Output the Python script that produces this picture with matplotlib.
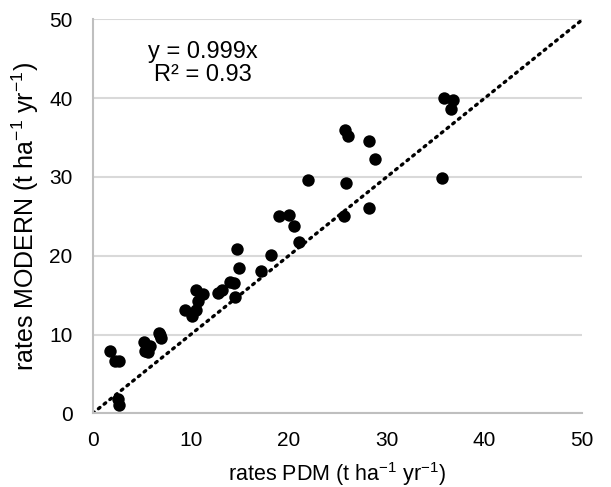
import matplotlib
matplotlib.use('Agg')
import matplotlib.pyplot as plt
import numpy as np

plt.rcParams['font.family'] = ['Liberation Sans', 'DejaVu Sans']
plt.rcParams['mathtext.fontset'] = 'custom'
plt.rcParams['mathtext.rm'] = 'Liberation Sans'
plt.rcParams['mathtext.it'] = 'Liberation Sans:italic'

# rates (t ha-1 yr-1)
rates_pdm = [1.8, 2.3, 2.7, 2.6, 2.7, 5.2, 5.3, 5.9, 5.6, 6.8, 7.0, 6.9,
             9.4, 10.1, 10.6, 10.8, 10.5, 11.3, 12.8, 13.2, 14.0, 14.4,
             14.5, 14.9, 14.7, 17.2, 18.2, 19.0, 20.0, 20.6, 21.1, 22.0,
             25.7, 25.8, 26.1, 25.9, 28.2, 28.8, 28.2, 35.7, 35.9, 36.8, 36.6]
rates_modern = [7.9, 6.6, 6.6, 1.8, 1.1, 9.0, 7.9, 8.6, 7.8, 10.2, 9.6, 9.9,
                13.1, 12.3, 13.1, 14.2, 15.6, 15.1, 15.3, 15.6, 16.7, 16.5,
                14.7, 18.4, 20.8, 18.0, 20.1, 25.0, 25.2, 23.8, 21.7, 29.6,
                25.0, 35.9, 35.2, 29.2, 34.6, 32.3, 26.0, 29.8, 40.0, 39.8, 38.6]
slope = 0.999
r2 = 0.93
ticks = [0, 10, 20, 30, 40, 50]

fig = plt.figure(figsize=(6.11, 4.87), dpi=100)
ax = fig.add_axes([0.1517, 0.1513, 0.953 - 0.1517, 0.9604 - 0.1513])

ax.scatter(rates_pdm, rates_modern, s=80, color='black', zorder=3, linewidths=0)

# trendline through origin
xl = np.array([0, 50])
ax.plot(xl, slope * xl, color='black', lw=2.4, linestyle=(0, (0.6, 1.6)),
        dash_capstyle='round', zorder=2)

ax.text(11.3, 45.85, 'y = %.3fx' % slope, ha='center', va='center', fontsize=17)
ax.text(11.3, 42.95, 'R² = %.2f' % r2, ha='center', va='center', fontsize=17)

ax.set_xlim(0, 50)
ax.set_ylim(0, 50)
ax.set_xticks(ticks)
ax.set_yticks(ticks)
ax.yaxis.grid(True, color='#d9d9d9', lw=1.5)
ax.set_axisbelow(True)
for s in ['top', 'right']:
    ax.spines[s].set_visible(False)
for s in ['left', 'bottom']:
    ax.spines[s].set_color('#bfbfbf')
    ax.spines[s].set_linewidth(1.5)
ax.tick_params(length=0, labelsize=15)
ax.tick_params(axis='y', pad=14.5)
ax.tick_params(axis='x', pad=13)

ax.set_xlabel('rates PDM (t ha$^{\\mathregular{-1}}$ yr$^{\\mathregular{-1}}$)', fontsize=15.5, labelpad=7)
ax.set_ylabel('rates MODERN (t ha$^{\\mathregular{-1}}$ yr$^{\\mathregular{-1}}$)', fontsize=18, labelpad=6)

fig.savefig('out.png', dpi=100)
